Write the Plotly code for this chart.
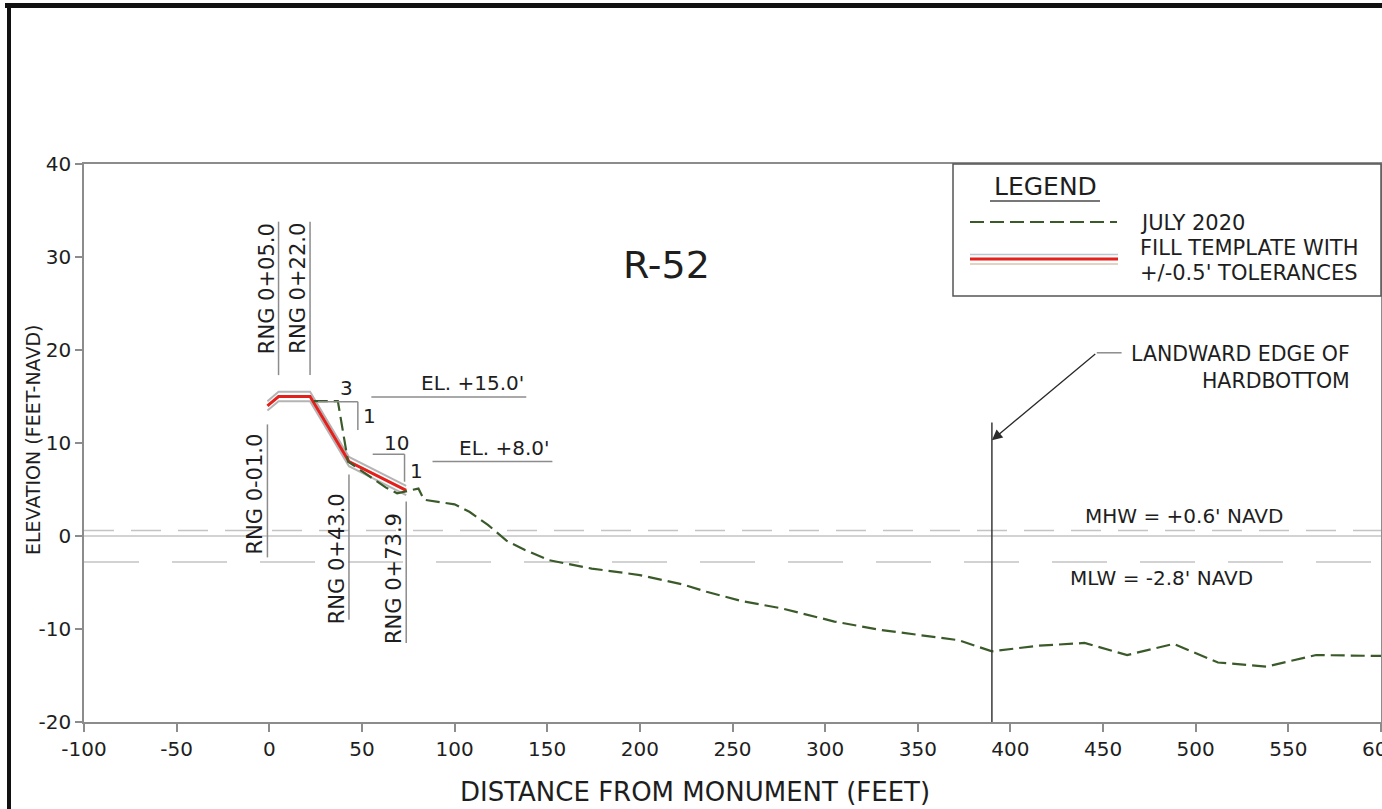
import plotly.graph_objects as go

# ---- Profile data (distance from monument, ft / elevation, ft NAVD) ----
survey_x = [24, 37, 42.5, 50, 56, 63, 69, 74, 80.5, 83.5, 100, 108, 118, 128,
            138, 151, 174, 200, 223, 236, 255, 277, 305, 330, 350, 372, 390,
            415, 440, 463, 488, 512, 538, 565, 600]
survey_y = [14.5, 14.5, 8.0, 7.0, 6.2, 5.2, 4.6, 4.8, 5.1, 3.9, 3.4, 2.6, 1.2,
            -0.5, -1.5, -2.6, -3.5, -4.2, -5.2, -6.0, -7.0, -7.8, -9.2, -10.1,
            -10.6, -11.2, -12.4, -11.8, -11.5, -12.8, -11.6, -13.6, -14.05,
            -12.8, -12.9]

template_x = [-1.0, 5.0, 22.0, 43.0, 73.9]
template_y = [14.0, 15.0, 15.0, 8.0, 4.9]
tolerance = 0.5

range_stations = [-1.0, 5.0, 22.0, 43.0, 73.9]
range_labels = ["RNG 0-01.0", "RNG 0+05.0", "RNG 0+22.0", "RNG 0+43.0", "RNG 0+73.9"]

mhw = 0.6
mlw = -2.8
hardbottom_x = 390

x_ticks = list(range(-100, 601, 50))
y_ticks = list(range(-20, 41, 10))

FONT = "DejaVu Sans, Verdana, sans-serif"
TXT = "#1e1e1e"
GRID = "#8c8c8c"

W, H = 1382, 809
ML, MR, MT, MB = 84, 1, 164, 87
PW, PH = W - ML - MR, H - MT - MB


def px(xp):
    return (xp - ML) / PW


def py(yp):
    return (H - MB - yp) / PH


def label(x, y, text, size, ref="paper", **kw):
    d = dict(x=x, y=y, xref=ref, yref=ref, text=text, showarrow=False,
             xanchor="center", yanchor="middle",
             font=dict(size=size, color=TXT, family=FONT))
    d.update(kw)
    return d


fig = go.Figure()

# tolerance band around the fill template
fig.add_trace(go.Scatter(x=template_x, y=[v + tolerance for v in template_y],
                         mode="lines", line=dict(color="#b4b4b4", width=2),
                         hoverinfo="skip", showlegend=False))
fig.add_trace(go.Scatter(x=template_x, y=[v - tolerance for v in template_y],
                         mode="lines", line=dict(color="#b4b4b4", width=2),
                         hoverinfo="skip", showlegend=False))
fig.add_trace(go.Scatter(x=template_x, y=template_y, mode="lines",
                         line=dict(color="#e3201b", width=3),
                         name="FILL TEMPLATE", showlegend=False))
fig.add_trace(go.Scatter(x=survey_x, y=survey_y, mode="lines",
                         line=dict(color="#3b5a2a", width=2.2, dash="14px,6px"),
                         name="JULY 2020", showlegend=False))

shapes = []
annotations = []

# tidal datums
shapes.append(dict(type="line", xref="paper", yref="y", x0=0, x1=1, y0=0, y1=0,
                   line=dict(color="#c4c4c4", width=1.5), layer="below"))
shapes.append(dict(type="line", xref="paper", yref="y", x0=0, x1=1, y0=mhw, y1=mhw,
                   line=dict(color="#c4c4c4", width=1.5, dash="30px,17px"), layer="below"))
shapes.append(dict(type="line", xref="paper", yref="y", x0=0, x1=1, y0=mlw, y1=mlw,
                   line=dict(color="#c4c4c4", width=1.5, dash="55px,33px"), layer="below"))
annotations.append(label(493.6, 2.15, "MHW = +0.6' NAVD", 20, ref="x", yref="y"))
annotations.append(label(481.7, -4.5, "MLW = -2.8' NAVD", 20, ref="x", yref="y"))

# range station leaders
leader_spans = [(12.0, -2.3), (33.8, 17.3), (33.8, 17.3), (6.6, -9.0), (3.7, -11.5)]
label_centres = [4.5, 26.6, 26.6, -2.4, -4.6]
for st, lab, (ya, yb), yc in zip(range_stations, range_labels, leader_spans, label_centres):
    shapes.append(dict(type="line", xref="x", yref="y", x0=st, x1=st, y0=ya, y1=yb,
                       line=dict(color=GRID, width=1.5)))
    annotations.append(label(st, yc, lab, 21, ref="x", yref="y", textangle=-90,
                             xshift=-12))

# slope indicators and design elevations
seg = [((26.3, 14.44), (47.8, 14.44)), ((47.8, 14.44), (47.8, 11.4)),
       ((55.1, 14.95), (138.7, 14.95)),
       ((55.8, 8.8), (73.0, 8.8)), ((73.0, 8.8), (73.0, 5.84)),
       ((88.1, 8.0), (152.8, 8.0))]
for (a, b) in seg:
    shapes.append(dict(type="line", xref="x", yref="y", x0=a[0], y0=a[1], x1=b[0], y1=b[1],
                       line=dict(color=GRID, width=1.5)))
for (tx, ty, t) in [(41.6, 15.95, "3"), (54.2, 12.9, "1"), (68.6, 10.0, "10"),
                    (79.4, 7.0, "1"), (109.7, 16.45, "EL. +15.0'"),
                    (127.0, 9.46, "EL. +8.0'")]:
    annotations.append(label(tx, ty, t, 20, ref="x", yref="y"))

annotations.append(label(214.3, 29.1, "R-52", 38, ref="x", yref="y"))

# landward edge of hardbottom
shapes.append(dict(type="line", xref="x", yref="y", x0=hardbottom_x, x1=hardbottom_x,
                   y0=-20, y1=12.2, line=dict(color="#3a3a3a", width=1.5)))
shapes.append(dict(type="line", xref="x", yref="y", x0=446.6, x1=460.0, y0=19.7, y1=19.7,
                   line=dict(color=GRID, width=1.5)))
annotations.append(dict(x=hardbottom_x, y=10.3, xref="x", yref="y", ax=446.6, ay=19.7,
                        axref="x", ayref="y", text="", showarrow=True, arrowhead=2,
                        arrowsize=1.6, arrowwidth=1.3, arrowcolor="#2a2a2a"))
annotations.append(label(px(1352), py(340), "LANDWARD EDGE OF<br>HARDBOTTOM", 20.5,
                         xanchor="right", yanchor="top", align="right"))

# legend panel
shapes.append(dict(type="rect", xref="paper", yref="paper", x0=px(953), x1=px(1381),
                   y0=py(296), y1=py(164), line=dict(color="#555555", width=1.5),
                   fillcolor="white"))
annotations.append(label(px(1045), py(186), "LEGEND", 25))
shapes.append(dict(type="line", xref="paper", yref="paper", x0=px(990), x1=px(1100),
                   y0=py(201), y1=py(201), line=dict(color="#777777", width=2)))
shapes.append(dict(type="line", xref="paper", yref="paper", x0=px(970), x1=px(1117),
                   y0=py(222), y1=py(222),
                   line=dict(color="#3b5a2a", width=2.2, dash="14px,6px")))
shapes.append(dict(type="line", xref="paper", yref="paper", x0=px(970), x1=px(1118),
                   y0=py(254.5), y1=py(254.5), line=dict(color="#b9c8d0", width=1.5)))
shapes.append(dict(type="line", xref="paper", yref="paper", x0=px(970), x1=px(1118),
                   y0=py(264), y1=py(264), line=dict(color="#d8c4b0", width=1.5)))
shapes.append(dict(type="line", xref="paper", yref="paper", x0=px(970), x1=px(1118),
                   y0=py(259), y1=py(259), line=dict(color="#e3201b", width=3)))
for yy, t in [(223, "JULY 2020"), (248, "FILL TEMPLATE WITH"), (273, "+/-0.5' TOLERANCES")]:
    annotations.append(label(px(1138), py(yy), t, 21, xanchor="left"))

# axis titles
annotations.append(label(px(695), py(792), "DISTANCE FROM MONUMENT (FEET)", 26))
annotations.append(label(px(33), py(440), "ELEVATION (FEET-NAVD)", 19, textangle=-90))

# sheet border
shapes.append(dict(type="line", xref="paper", yref="paper", x0=px(5), x1=px(1382),
                   y0=py(5.5), y1=py(5.5), line=dict(color="#111111", width=5)))
shapes.append(dict(type="line", xref="paper", yref="paper", x0=px(9), x1=px(9),
                   y0=py(3), y1=py(809), line=dict(color="#111111", width=4)))

fig.update_layout(
    width=W, height=H, autosize=False,
    margin=dict(l=ML, r=MR, t=MT, b=MB, pad=0, autoexpand=False),
    paper_bgcolor="white", plot_bgcolor="white",
    font=dict(family=FONT, color=TXT),
    shapes=shapes, annotations=annotations,
    xaxis=dict(range=[-100, 600], tickmode="array", tickvals=x_ticks,
               ticktext=[str(v) for v in x_ticks], showgrid=False, zeroline=False,
               showline=True, linecolor=GRID, linewidth=1.5, mirror=True,
               ticks="outside", ticklen=8, tickcolor=GRID, tickwidth=1.5,
               tickfont=dict(size=20, color=TXT, family=FONT),
               ticklabeloverflow="allow", automargin=False),
    yaxis=dict(range=[-20, 40], tickmode="array", tickvals=y_ticks,
               ticktext=[str(v) for v in y_ticks],
               showgrid=False, zeroline=False,
               showline=True, linecolor=GRID, linewidth=1.5, mirror=True,
               ticks="outside", ticklen=7, tickcolor=GRID, tickwidth=1.5,
               tickfont=dict(size=20, color=TXT, family=FONT), automargin=False),
)

fig.write_html(
    "out.html",
    config={"responsive": False, "displayModeBar": False},
    post_script="document.documentElement.style.overflow='hidden';"
                "document.body.style.overflow='hidden';document.body.style.margin='0';",
)
